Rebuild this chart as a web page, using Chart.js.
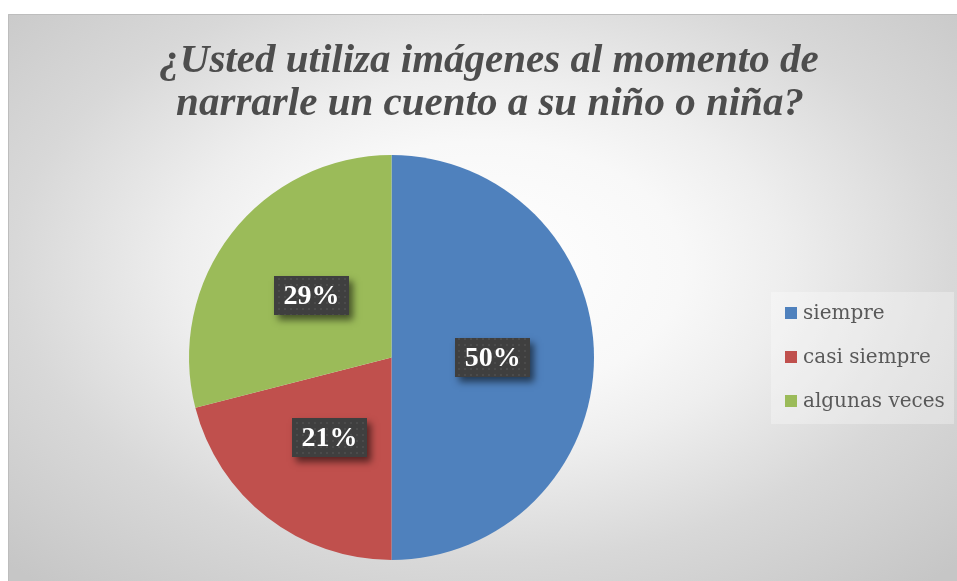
<!DOCTYPE html>
<html><head><meta charset="utf-8">
<script src="https://cdn.jsdelivr.net/npm/chart.js@4/dist/chart.umd.min.js"></script>
<style>html,body{margin:0;padding:0;background:#fff;overflow:hidden}#c{display:block}</style>
</head><body>
<canvas id="c" width="957" height="581" style="width:957px;height:581px"></canvas>
<script>
const titleLines = ['¿Usted utiliza imágenes al momento de', 'narrarle un cuento a su niño o niña?'];
const categories = ['siempre', 'casi siempre', 'algunas veces'];
const percentages = [50, 21, 29];
const sliceColors = ['#4F81BD', '#C0504D', '#9BBB59'];

const W = 957, H = 581;
const frame = {x: 8, y: 14, w: 949, h: 567};

const bgPlugin = {
  id: 'bg',
  beforeDraw(chart) {
    const ctx = chart.ctx;
    ctx.save();
    ctx.fillStyle = '#ffffff';
    ctx.fillRect(0, 0, W, H);
    const cx = frame.x + frame.w / 2, cy = frame.y + frame.h / 2 - 30;
    const rx = frame.w / 2 * Math.SQRT2, ry = frame.h / 2 * Math.SQRT2 + 20;
    ctx.beginPath();
    ctx.rect(frame.x, frame.y, frame.w, frame.h);
    ctx.clip();
    ctx.translate(cx, cy);
    ctx.scale(1, ry / rx);
    const g = ctx.createRadialGradient(0, 0, 0, 0, 0, rx);
    g.addColorStop(0, '#ffffff');
    g.addColorStop(0.3, '#f8f8f8');
    g.addColorStop(0.45, '#eeeeee');
    g.addColorStop(0.7, '#d8d8d8');
    g.addColorStop(1, '#c6c6c6');
    ctx.fillStyle = g;
    ctx.fillRect(-rx, -rx, rx * 2, rx * 2);
    ctx.restore();
    ctx.save();
    ctx.strokeStyle = '#bdbdbd';
    ctx.lineWidth = 1;
    ctx.beginPath();
    ctx.moveTo(frame.x + 0.5, H);
    ctx.lineTo(frame.x + 0.5, frame.y + 0.5);
    ctx.lineTo(W, frame.y + 0.5);
    ctx.stroke();
    ctx.restore();
  }
};

function makePattern(ctx) {
  const p = document.createElement('canvas');
  p.width = 6; p.height = 6;
  const pc = p.getContext('2d');
  pc.fillStyle = '#3f3f3f';
  pc.fillRect(0, 0, 6, 6);
  pc.fillStyle = '#4b4b4b';
  pc.fillRect(2, 2, 2, 2);
  return ctx.createPattern(p, 'repeat');
}

const labelPlugin = {
  id: 'pctLabels',
  afterDatasetsDraw(chart) {
    const ctx = chart.ctx;
    const meta = chart.getDatasetMeta(0);
    const pat = makePattern(ctx);
    meta.data.forEach((arc, i) => {
      const pos = arc.tooltipPosition();
      const bw = 75, bh = 39;
      const x = Math.round(pos.x - bw / 2), y = Math.round(pos.y - bh / 2);
      ctx.save();
      ctx.shadowColor = 'rgba(0,0,0,0.55)';
      ctx.shadowBlur = 7;
      ctx.shadowOffsetX = 4;
      ctx.shadowOffsetY = 5;
      ctx.fillStyle = '#3f3f3f';
      ctx.fillRect(x, y, bw, bh);
      ctx.restore();
      ctx.save();
      ctx.fillStyle = pat;
      ctx.fillRect(x, y, bw, bh);
      ctx.fillStyle = '#ffffff';
      ctx.font = 'bold 28px "Liberation Serif"';
      ctx.textAlign = 'center';
      ctx.textBaseline = 'middle';
      ctx.fillText(percentages[i] + '%', pos.x, pos.y + 1);
      ctx.restore();
    });
  }
};

const textPlugin = {
  id: 'texts',
  afterDraw(chart) {
    const ctx = chart.ctx;
    ctx.save();
    ctx.fillStyle = '#4d4d4d';
    ctx.font = 'italic bold 41px "Liberation Serif"';
    ctx.textAlign = 'center';
    ctx.textBaseline = 'alphabetic';
    ctx.fillText(titleLines[0], 489, 72);
    ctx.fillText(titleLines[1], 490, 115);
    ctx.restore();

    // legend box
    ctx.save();
    ctx.fillStyle = 'rgba(255,255,255,0.3)';
    ctx.fillRect(771, 292, 183, 132);
    const ys = [313, 357, 401];
    ctx.font = '20px "DejaVu Serif"';
    ctx.textBaseline = 'middle';
    ctx.textAlign = 'left';
    categories.forEach((c, i) => {
      ctx.fillStyle = sliceColors[i];
      ctx.fillRect(785, ys[i] - 6, 12, 12);
      ctx.fillStyle = '#595959';
      ctx.fillText(c, 803, ys[i] + 1);
    });
    ctx.restore();
  }
};

new Chart(document.getElementById('c'), {
  type: 'pie',
  data: {
    labels: categories,
    datasets: [{
      data: percentages,
      backgroundColor: sliceColors,
      borderWidth: 0
    }]
  },
  options: {
    responsive: false,
    animation: false,
    devicePixelRatio: 1,
    layout: {padding: {left: 189, right: 363, top: 155, bottom: 21}},
    plugins: {
      legend: {display: false},
      title: {display: false},
      tooltip: {enabled: false}
    }
  },
  plugins: [bgPlugin, labelPlugin, textPlugin]
});
</script>
</body></html>
